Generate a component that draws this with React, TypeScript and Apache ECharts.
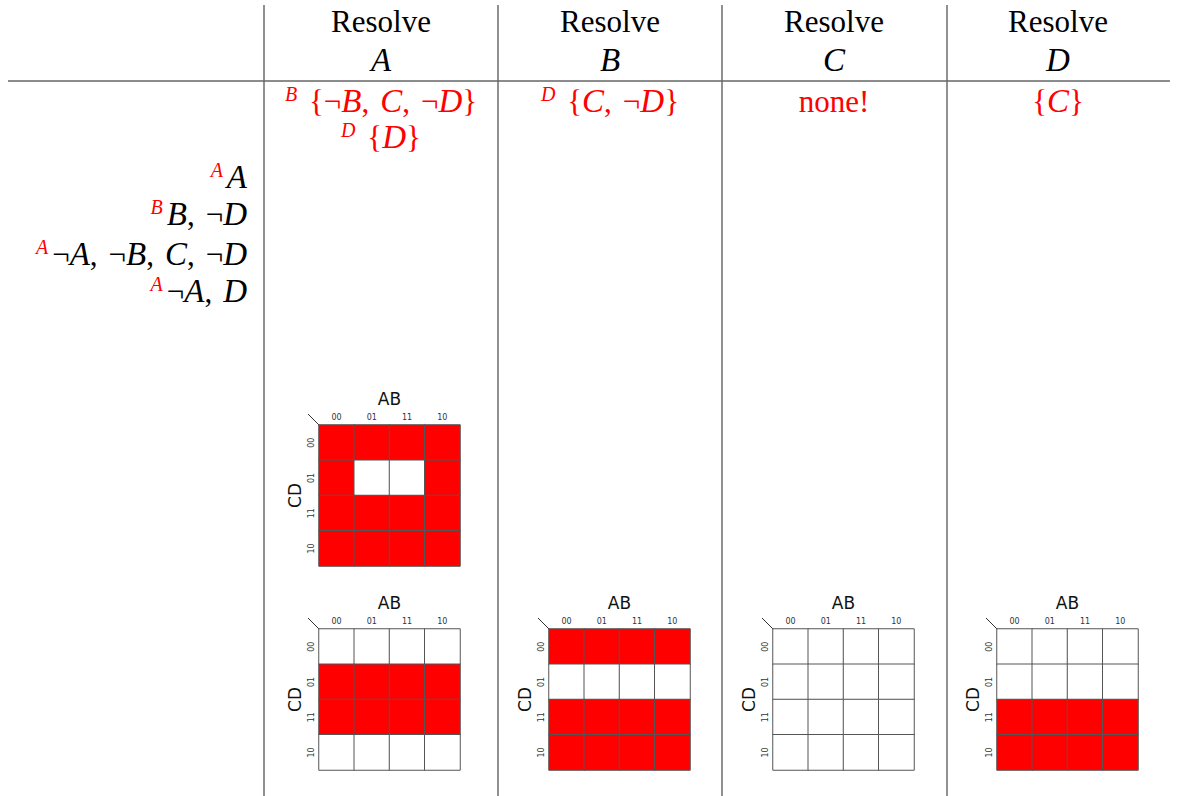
import React, { useEffect, useRef } from "react";
import * as echarts from "echarts";

// ---- data ----
const resolveVars = ["A", "B", "C", "D"];
const clauseTags = ["A", "B", "A", "A"];
const clauses = [["A"], ["B", "¬D"], ["¬A", "¬B", "C", "¬D"], ["¬A", "D"]];
const resolventsA = [
  { tag: "B", lits: ["¬B", "C", "¬D"] },
  { tag: "D", lits: ["D"] },
];
const resolventsB = [{ tag: "D", lits: ["C", "¬D"] }];
const resolventsC = [{ tag: "", lits: [] as string[], note: "none!" }];
const resolventsD = [{ tag: "", lits: ["C"] }];
const kmapLabels = ["00", "01", "11", "10"];
// rows: CD = 00, 01, 11, 10 ; cols: AB = 00, 01, 11, 10
const kmapA1 = [
  [1, 1, 1, 1],
  [1, 0, 0, 1],
  [1, 1, 1, 1],
  [1, 1, 1, 1],
];
const kmapA2 = [
  [0, 0, 0, 0],
  [1, 1, 1, 1],
  [1, 1, 1, 1],
  [0, 0, 0, 0],
];
const kmapB = [
  [1, 1, 1, 1],
  [0, 0, 0, 0],
  [1, 1, 1, 1],
  [1, 1, 1, 1],
];
const kmapC = [
  [0, 0, 0, 0],
  [0, 0, 0, 0],
  [0, 0, 0, 0],
  [0, 0, 0, 0],
];
const kmapD = [
  [0, 0, 0, 0],
  [0, 0, 0, 0],
  [1, 1, 1, 1],
  [1, 1, 1, 1],
];

const RED = "#ff0000";
const SERIF = "'Liberation Serif', 'DejaVu Serif', serif";
const SANS = "'DejaVu Sans', sans-serif";
const LH = 34;

function toHeat(m: number[][]) {
  const out: number[][] = [];
  m.forEach((row, r) => row.forEach((v, c) => out.push([c, r, v])));
  return out;
}

function lit(l: string) {
  return l.startsWith("¬") ? "¬{it|" + l.slice(1) + "}" : "{it|" + l + "}";
}
function litList(lits: string[]) {
  return lits.map(lit).join(",{g| }");
}

function richFor(color: string) {
  return {
    it: { fontFamily: SERIF, fontStyle: "italic", fontSize: 33, lineHeight: LH, fill: color },
    g: { fontFamily: SERIF, fontSize: 31, width: 11, lineHeight: LH },
    sup: {
      fontFamily: SERIF,
      fontStyle: "italic",
      fontSize: 20,
      lineHeight: 14,
      verticalAlign: "top",
      fill: RED,
      padding: [0, 4, 0, 0],
    },
  };
}

export default function App() {
  const ref = useRef<HTMLDivElement>(null);
  useEffect(() => {
    document.body.style.margin = "0";
    const chart = echarts.init(ref.current!, null, { renderer: "svg" });

    const colX = [381, 610, 834, 1058];
    const kmaps = [kmapA1, kmapA2, kmapB, kmapC, kmapD];
    const mapPos = [
      [319, 425],
      [319, 629],
      [549, 629],
      [773, 629],
      [997, 629],
    ];
    const size = 141;

    const grids = mapPos.map(([l, t]) => ({ left: l, top: t, width: size, height: size }));
    const xAxes = mapPos.map((_, i) => ({
      type: "category",
      gridIndex: i,
      data: kmapLabels,
      position: "top",
      name: "AB",
      nameLocation: "middle",
      nameGap: 18,
      nameTextStyle: { fontSize: 17, color: "#111", fontFamily: SANS },
      axisLine: { show: false },
      axisTick: { show: false },
      splitLine: { show: false },
      axisLabel: { fontSize: 8, color: "#333", margin: 4, fontFamily: SANS },
    }));
    const yAxes = mapPos.map((_, i) => ({
      type: "category",
      gridIndex: i,
      data: kmapLabels,
      inverse: true,
      name: "CD",
      nameLocation: "middle",
      nameGap: 16,
      nameRotate: 90,
      nameTextStyle: { fontSize: 17, color: "#111", fontFamily: SANS },
      axisLine: { show: false },
      axisTick: { show: false },
      splitLine: { show: false },
      axisLabel: { fontSize: 8, color: "#333", margin: 4, rotate: 90, fontFamily: SANS },
    }));
    const series = kmaps.map((m, i) => ({
      type: "heatmap",
      xAxisIndex: i,
      yAxisIndex: i,
      data: toHeat(m),
      itemStyle: { borderColor: "#555", borderWidth: 1 },
      emphasis: { disabled: true },
    }));

    const graphics: any[] = [];
    const line = (x1: number, y1: number, x2: number, y2: number, c = "#555") => ({
      type: "line",
      shape: { x1, y1, x2, y2 },
      style: { stroke: c, lineWidth: 1.3 },
      silent: true,
    });
    [264, 498, 722, 947].forEach((x) => graphics.push(line(x, 5, x, 796)));
    graphics.push(line(8, 81, 1170, 81, "#666"));
    mapPos.forEach(([l, t]) =>
      graphics.push({
        type: "line",
        shape: { x1: l - 11, y1: t - 11, x2: l, y2: t },
        style: { stroke: "#333", lineWidth: 1 },
        silent: true,
      })
    );

    const textStyle = (text: string, color: string, align: string, extra: any = {}) => ({
      text,
      fontFamily: SERIF,
      fontSize: 31,
      lineHeight: LH,
      fill: color,
      align,
      verticalAlign: "middle",
      textAlign: align,
      textVerticalAlign: "middle",
      ...extra,
    });

    // header
    resolveVars.forEach((v, i) => {
      graphics.push({ type: "text", x: colX[i], y: 21, style: textStyle("Resolve", "#000", "center") });
      graphics.push({
        type: "text",
        x: colX[i],
        y: 60,
        style: textStyle(v, "#000", "center", { fontStyle: "italic", fontSize: 33 }),
      });
    });

    // left column clauses
    const clauseY = [177, 214, 254, 291];
    clauses.forEach((c, i) => {
      graphics.push({
        type: "text",
        x: 247,
        y: clauseY[i],
        style: textStyle("{sup|" + clauseTags[i] + "}" + litList(c), "#000", "right", {
          rich: richFor("#000"),
        }),
      });
    });

    // resolvents
    const resolventCols: any[][] = [resolventsA, resolventsB, resolventsC, resolventsD];
    resolventCols.forEach((list, ci) => {
      list.forEach((r: any, ri: number) => {
        const body = r.note ? r.note : "{" + litList(r.lits) + "}";
        graphics.push({
          type: "text",
          x: colX[ci],
          y: 101 + ri * 36,
          style: textStyle((r.tag ? "{sup|" + r.tag + "} " : "") + body, RED, "center", {
            rich: richFor(RED),
          }),
        });
      });
    });

    chart.setOption({
      animation: false,
      backgroundColor: "#ffffff",
      grid: grids,
      xAxis: xAxes,
      yAxis: yAxes,
      visualMap: {
        type: "piecewise",
        show: false,
        dimension: 2,
        seriesIndex: [0, 1, 2, 3, 4],
        pieces: [
          { value: 0, color: "#ffffff" },
          { value: 1, color: RED },
        ],
      },
      series,
      graphic: { elements: graphics },
    });
    return () => chart.dispose();
  }, []);
  return <div ref={ref} style={{ width: 1178, height: 796 }} />;
}
